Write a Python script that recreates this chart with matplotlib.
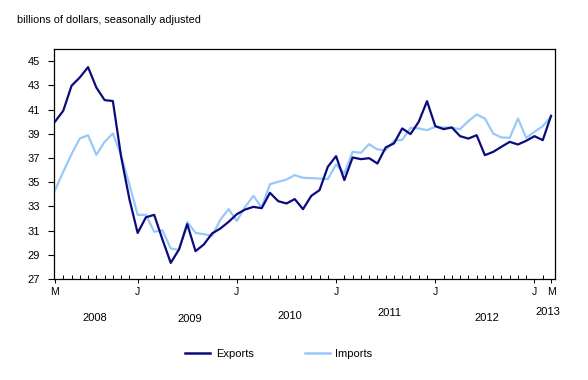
import matplotlib
matplotlib.use("Agg")
import matplotlib.pyplot as plt
import numpy as np

plt.rcParams['font.family'] = ['Liberation Sans', 'DejaVu Sans']

# Monthly, March 2008 .. March 2013
exports = [40.0, 40.9, 42.96, 43.65, 44.5, 42.82, 41.78, 41.7, 37.1, 33.6,
           30.8, 32.1, 32.3, 30.26, 28.33, 29.44, 31.53, 29.3, 29.85, 30.76,
           31.17, 31.72, 32.36, 32.74, 32.96, 32.85, 34.12, 33.43, 33.24, 33.6,
           32.77, 33.87, 34.34, 36.27, 37.15, 35.17, 37.04, 36.9, 36.98, 36.54,
           37.87, 38.2, 39.44, 38.97, 39.99, 41.69, 39.63, 39.38, 39.52, 38.8,
           38.6, 38.88, 37.23, 37.5, 37.92, 38.33, 38.11, 38.42, 38.8, 38.47,
           40.48]
imports = [34.34, 35.85, 37.31, 38.61, 38.88, 37.26, 38.33, 39.02, 37.2, 34.8,
           32.3, 32.3, 30.9, 31.03, 29.52, 29.4, 31.72, 30.81, 30.7, 30.56,
           31.9, 32.77, 31.8, 32.96, 33.87, 32.9, 34.83, 35.03, 35.22, 35.58,
           35.36, 35.33, 35.3, 35.25, 36.46, 35.72, 37.51, 37.42, 38.14, 37.7,
           37.64, 38.42, 38.5, 39.49, 39.44, 39.3, 39.57, 39.52, 39.49, 39.38,
           40.04, 40.59, 40.26, 39.02, 38.69, 38.66, 40.26, 38.66, 39.16, 39.63,
           40.4]
month_tick_pos = [0, 10, 22, 34, 46, 58, 60]
month_tick_labels = ['M', 'J', 'J', 'J', 'J', 'J', 'M']
years = ['2008', '2009', '2010', '2011', '2012', '2013']
year_pos = [4.8, 16.3, 28.4, 40.5, 52.2, 59.6]
year_y = [23.78, 23.7, 23.94, 24.19, 23.78, 24.27]
yticks = list(range(27, 46, 2))

dark = '#0b0b7d'
light = '#99c9f9'

fig = plt.figure(figsize=(5.88, 3.8), dpi=100)
ax = fig.add_axes([54/588, 1-279/380, (555-54)/588, (279-49)/380])

x = np.arange(len(exports))
ax.plot(x, imports, color=light, lw=1.6, label='Imports', zorder=2)
ax.plot(x, exports, color=dark, lw=1.6, label='Exports', zorder=3)

ax.set_xlim(-0.12, 60.48)
ax.set_ylim(27, 46)
ax.set_yticks(yticks)
ax.set_yticklabels([str(v) for v in yticks], fontsize=8)
ax.tick_params(axis='y', direction='out', length=4, width=0.8, pad=6)

ax.set_xticks(x, minor=True)
ax.set_xticks(month_tick_pos)
ax.set_xticklabels(month_tick_labels, fontsize=7.5)
ax.tick_params(axis='x', which='minor', direction='in', length=3, width=0.7)
ax.tick_params(axis='x', which='major', direction='out', length=3, width=0.7, pad=3)

for sp in ax.spines.values():
    sp.set_linewidth(0.9)
    sp.set_color('black')

for yr, xp, yp in zip(years, year_pos, year_y):
    ax.text(xp, yp, yr, ha='center', va='center', fontsize=8,
            transform=ax.transData, clip_on=False)

fig.text(17/588, 1-20/380, 'billions of dollars, seasonally adjusted',
         fontsize=7.8, ha='left', va='center')

h_exp, = ax.plot([], [], color=dark, lw=1.8)
h_imp, = ax.plot([], [], color=light, lw=1.8)
leg = fig.legend([h_exp, h_imp], ['Exports', 'Imports'], loc='center',
                 bbox_to_anchor=(279/588, 1-354/380), ncol=2, frameon=False,
                 fontsize=8, handlelength=2.25, columnspacing=4.6, handletextpad=0.5)

fig.savefig('out.png', dpi=100)
